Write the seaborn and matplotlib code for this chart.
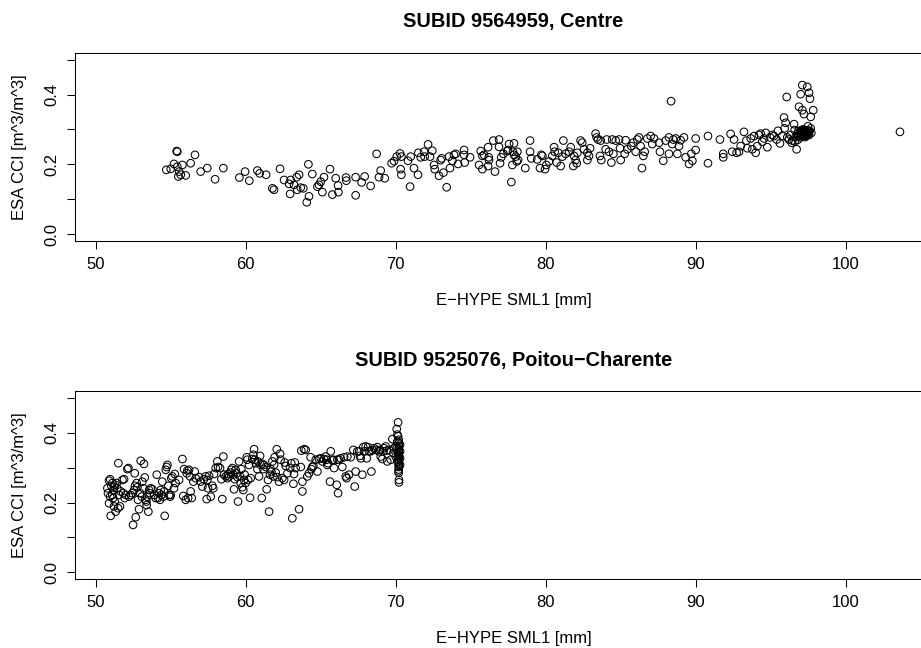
import matplotlib
matplotlib.use("Agg")
import matplotlib.pyplot as plt
import seaborn as sns
import pandas as pd

# ---------------- data ----------------
titles = ["SUBID 9564959, Centre", "SUBID 9525076, Poitou\u2212Charente"]
x_label = "E\u2212HYPE SML1 [mm]"
y_label = "ESA CCI [m^3/m^3]"
x_ticks = [50, 60, 70, 80, 90, 100]
y_ticks = [0.0, 0.1, 0.2, 0.3, 0.4, 0.5]
y_tick_labels = ["0.0", "", "0.2", "", "0.4", ""]

# Centre: (E-HYPE SML1 [mm], ESA CCI)
centre_points = [
    (54.71, 0.184), (55.0, 0.187), (55.22, 0.201), (55.44, 0.193), (55.4, 0.238),
    (55.44, 0.236), (55.56, 0.179), (55.51, 0.165), (55.67, 0.170), (55.78, 0.198),
    (56.0, 0.168), (56.33, 0.203), (56.62, 0.227), (57.0, 0.179), (57.44, 0.189),
    (57.96, 0.157), (58.51, 0.189), (59.58, 0.162), (59.96, 0.179), (60.24, 0.153),
    (60.78, 0.182), (60.93, 0.174), (61.36, 0.170), (61.78, 0.131), (61.89, 0.127),
    (62.29, 0.187), (62.56, 0.155), (62.89, 0.144), (62.96, 0.115), (63.0, 0.155),
    (63.22, 0.141), (63.4, 0.163), (63.56, 0.170), (63.44, 0.127), (63.67, 0.133),
    (63.84, 0.131), (64.18, 0.200), (64.22, 0.108), (64.07, 0.091), (64.44, 0.172),
    (64.78, 0.136), (64.89, 0.141), (65.0, 0.150), (65.11, 0.120), (65.22, 0.163),
    (65.62, 0.186), (65.78, 0.113), (66.0, 0.160), (66.16, 0.139), (66.18, 0.120),
    (66.69, 0.162), (66.71, 0.153), (67.33, 0.163), (67.33, 0.111), (67.73, 0.148),
    (67.93, 0.165), (68.33, 0.138), (68.73, 0.230), (68.89, 0.163), (69.0, 0.182),
    (69.27, 0.160), (69.73, 0.203), (69.89, 0.209), (70.07, 0.222), (70.29, 0.231),
    (70.38, 0.222), (70.33, 0.186), (70.38, 0.170), (70.82, 0.210), (70.96, 0.136),
    (71.0, 0.222), (71.22, 0.189), (71.49, 0.170), (71.51, 0.233), (71.67, 0.220),
    (71.89, 0.236), (71.93, 0.222), (72.16, 0.257), (72.29, 0.222), (72.44, 0.239),
    (72.56, 0.198), (72.6, 0.186), (72.89, 0.167), (73.0, 0.212), (73.07, 0.217),
    (73.18, 0.176), (73.4, 0.134), (73.56, 0.222), (73.62, 0.189), (73.78, 0.210),
    (73.89, 0.227), (74.0, 0.230), (74.16, 0.201), (74.56, 0.241), (74.6, 0.205),
    (74.56, 0.227), (74.96, 0.220), (75.56, 0.198), (75.67, 0.238), (75.78, 0.186),
    (75.78, 0.224), (75.89, 0.227), (76.16, 0.249), (76.2, 0.220), (76.16, 0.195),
    (76.22, 0.212), (76.51, 0.268), (76.62, 0.179), (76.89, 0.271), (76.89, 0.250),
    (76.96, 0.203), (77.04, 0.220), (77.18, 0.230), (77.44, 0.238), (77.56, 0.258),
    (77.49, 0.241), (77.71, 0.149), (77.78, 0.198), (77.82, 0.236), (77.89, 0.260),
    (77.89, 0.227), (78.0, 0.222), (78.07, 0.208), (78.11, 0.236), (78.16, 0.212),
    (78.64, 0.189), (78.96, 0.268), (78.96, 0.236), (79.04, 0.217), (79.44, 0.214),
    (79.62, 0.189), (79.78, 0.224), (79.71, 0.227), (79.96, 0.186), (80.04, 0.198),
    (80.22, 0.208), (80.44, 0.224), (80.56, 0.249), (80.6, 0.236), (80.73, 0.205),
    (80.84, 0.233), (81.0, 0.195), (81.11, 0.222), (81.18, 0.268), (81.33, 0.230),
    (81.56, 0.236), (81.67, 0.249), (81.84, 0.195), (81.89, 0.224), (82.0, 0.212),
    (82.07, 0.203), (82.11, 0.233), (82.33, 0.268), (82.44, 0.262), (82.56, 0.243),
    (82.78, 0.233), (82.78, 0.212), (82.89, 0.224), (82.96, 0.246), (83.33, 0.288),
    (83.4, 0.277), (83.49, 0.271), (83.62, 0.224), (83.67, 0.268), (83.71, 0.212),
    (84.0, 0.243), (84.07, 0.271), (84.22, 0.236), (84.38, 0.205), (84.44, 0.271),
    (84.51, 0.230), (84.67, 0.268), (84.89, 0.271), (84.96, 0.246), (85.0, 0.212),
    (85.27, 0.230), (85.33, 0.269), (85.44, 0.243), (85.71, 0.252), (85.84, 0.262),
    (86.0, 0.236), (86.11, 0.271), (86.22, 0.277), (86.33, 0.252), (86.42, 0.189),
    (86.51, 0.224), (86.6, 0.236), (86.78, 0.274), (87.0, 0.281), (87.11, 0.258),
    (87.22, 0.274), (87.56, 0.262), (87.62, 0.236), (87.84, 0.210), (88.0, 0.268),
    (88.22, 0.277), (88.22, 0.230), (88.36, 0.381), (88.44, 0.258), (88.51, 0.271),
    (88.67, 0.274), (88.78, 0.230), (88.89, 0.252), (89.0, 0.269), (89.22, 0.277),
    (89.33, 0.220), (89.56, 0.201), (89.71, 0.230), (89.78, 0.210), (90.0, 0.274),
    (90.0, 0.241), (90.82, 0.203), (90.82, 0.281), (91.62, 0.271), (91.84, 0.230),
    (91.84, 0.220), (92.33, 0.287), (92.44, 0.236), (92.56, 0.271), (92.73, 0.233),
    (92.89, 0.236), (93.0, 0.252), (93.22, 0.293), (93.38, 0.268), (93.44, 0.246),
    (93.67, 0.274), (93.78, 0.243), (93.89, 0.281), (94.0, 0.233), (94.11, 0.252),
    (94.22, 0.284), (94.33, 0.288), (94.44, 0.265), (94.56, 0.274), (94.67, 0.290),
    (94.78, 0.249), (94.96, 0.277), (95.11, 0.284), (95.22, 0.281), (95.4, 0.271),
    (95.49, 0.296), (95.62, 0.260), (95.78, 0.281), (95.89, 0.334), (95.93, 0.303),
    (96.0, 0.319), (96.07, 0.393), (96.11, 0.277), (96.22, 0.271), (96.33, 0.284),
    (96.44, 0.268), (96.56, 0.315), (96.6, 0.298), (96.67, 0.279), (96.73, 0.243),
    (96.78, 0.288), (96.89, 0.365), (96.89, 0.281), (97.0, 0.401), (97.0, 0.277),
    (97.04, 0.293), (97.11, 0.427), (97.11, 0.355), (97.18, 0.288), (97.22, 0.344),
    (97.27, 0.290), (97.33, 0.284), (97.4, 0.293), (97.44, 0.422), (97.49, 0.309),
    (97.56, 0.405), (97.56, 0.284), (97.62, 0.388), (97.67, 0.336), (97.67, 0.303),
    (97.71, 0.290), (97.84, 0.355), (96.95, 0.290), (97.05, 0.285), (97.1, 0.295),
    (97.15, 0.280), (97.2, 0.292), (97.25, 0.298), (97.3, 0.287), (97.35, 0.292),
    (97.4, 0.282), (97.45, 0.297), (97.5, 0.288), (97.55, 0.293), (97.6, 0.296),
    (97.15, 0.300), (97.3, 0.278), (96.8, 0.282), (96.85, 0.295), (97.0, 0.297),
    (97.2, 0.283), (97.45, 0.290), (96.4, 0.262), (96.6, 0.266), (96.8, 0.270),
    (103.62, 0.293),
]

# Poitou-Charente: (E-HYPE SML1 [mm], ESA CCI)
poitou_points = [
    (50.78, 0.241), (50.82, 0.227), (50.89, 0.263), (50.96, 0.267), (51.0, 0.162),
    (51.04, 0.248), (51.11, 0.256), (51.16, 0.213), (51.22, 0.189), (51.27, 0.203),
    (51.33, 0.174), (50.89, 0.198), (50.96, 0.217), (51.11, 0.222), (51.18, 0.236),
    (51.22, 0.246), (51.29, 0.251), (51.4, 0.256), (51.44, 0.241), (51.49, 0.184),
    (51.56, 0.222), (51.51, 0.313), (51.62, 0.189), (51.67, 0.232), (51.78, 0.265),
    (51.84, 0.227), (51.89, 0.267), (51.93, 0.213), (52.0, 0.222), (52.11, 0.296),
    (52.18, 0.299), (52.22, 0.217), (52.33, 0.222), (52.44, 0.227), (52.49, 0.136),
    (52.56, 0.236), (52.6, 0.284), (52.62, 0.248), (52.67, 0.158), (52.73, 0.256),
    (52.78, 0.244), (52.82, 0.208), (52.89, 0.181), (52.96, 0.227), (53.0, 0.320),
    (53.07, 0.217), (53.11, 0.260), (53.18, 0.241), (53.22, 0.311), (53.27, 0.272),
    (53.33, 0.208), (53.38, 0.203), (53.4, 0.193), (53.44, 0.217), (53.51, 0.174),
    (53.56, 0.236), (53.62, 0.227), (53.67, 0.241), (53.78, 0.238), (53.89, 0.222),
    (54.0, 0.213), (54.07, 0.280), (54.16, 0.213), (54.22, 0.227), (54.29, 0.208),
    (54.33, 0.236), (54.38, 0.222), (54.44, 0.260), (54.51, 0.217), (54.56, 0.232),
    (54.6, 0.162), (54.67, 0.294), (54.73, 0.302), (54.78, 0.308), (54.84, 0.248),
    (54.89, 0.222), (54.96, 0.217), (55.0, 0.222), (55.04, 0.270), (55.11, 0.275),
    (55.22, 0.241), (55.27, 0.282), (55.33, 0.256), (55.56, 0.265), (55.78, 0.325),
    (55.84, 0.219), (55.89, 0.296), (56.0, 0.208), (56.07, 0.284), (56.11, 0.292),
    (56.16, 0.213), (56.22, 0.294), (56.29, 0.275), (56.33, 0.232), (56.4, 0.213),
    (56.51, 0.260), (56.6, 0.289), (56.67, 0.270), (56.89, 0.273), (57.0, 0.260),
    (57.11, 0.246), (57.22, 0.267), (57.33, 0.275), (57.4, 0.210), (57.44, 0.265),
    (57.49, 0.241), (57.56, 0.277), (57.67, 0.217), (57.78, 0.248), (57.84, 0.241),
    (57.89, 0.282), (58.0, 0.299), (58.11, 0.318), (58.16, 0.302), (58.29, 0.299),
    (58.38, 0.267), (58.44, 0.210), (58.51, 0.332), (58.56, 0.280), (58.67, 0.275),
    (58.78, 0.270), (58.82, 0.282), (58.89, 0.275), (59.0, 0.286), (59.04, 0.294),
    (59.11, 0.299), (59.18, 0.280), (59.22, 0.238), (59.27, 0.267), (59.33, 0.294),
    (59.4, 0.284), (59.44, 0.273), (59.49, 0.203), (59.56, 0.318), (59.62, 0.275),
    (59.67, 0.256), (59.71, 0.296), (59.78, 0.244), (59.84, 0.236), (59.89, 0.265),
    (59.93, 0.280), (60.0, 0.256), (60.07, 0.330), (60.11, 0.323), (60.16, 0.265),
    (60.22, 0.308), (60.29, 0.214), (60.33, 0.270), (60.44, 0.325), (60.51, 0.337),
    (60.56, 0.353), (60.6, 0.323), (60.67, 0.313), (60.78, 0.296), (60.82, 0.318),
    (60.89, 0.275), (60.96, 0.334), (61.0, 0.308), (61.07, 0.213), (61.11, 0.311),
    (61.18, 0.296), (61.22, 0.308), (61.33, 0.302), (61.4, 0.238), (61.49, 0.265),
    (61.56, 0.174), (61.62, 0.280), (61.67, 0.296), (61.71, 0.289), (61.78, 0.318),
    (61.84, 0.275), (61.89, 0.308), (61.93, 0.330), (62.0, 0.286), (62.07, 0.353),
    (62.11, 0.273), (62.22, 0.260), (62.29, 0.340), (62.33, 0.323), (62.44, 0.270),
    (62.56, 0.265), (62.6, 0.315), (62.67, 0.305), (62.78, 0.284), (62.96, 0.299),
    (63.04, 0.313), (63.11, 0.155), (63.18, 0.254), (63.22, 0.282), (63.27, 0.315),
    (63.33, 0.299), (63.56, 0.181), (63.67, 0.302), (63.71, 0.349), (63.78, 0.260),
    (63.78, 0.232), (63.89, 0.353), (64.0, 0.351), (64.11, 0.275), (64.22, 0.284),
    (64.33, 0.330), (64.38, 0.296), (64.44, 0.302), (64.51, 0.305), (64.67, 0.323),
    (64.78, 0.289), (64.89, 0.325), (65.0, 0.327), (65.11, 0.318), (65.22, 0.325),
    (65.33, 0.332), (65.4, 0.323), (65.44, 0.308), (65.49, 0.313), (65.62, 0.260),
    (65.67, 0.347), (65.78, 0.321), (65.84, 0.323), (65.89, 0.299), (66.07, 0.251),
    (66.11, 0.323), (66.16, 0.227), (66.22, 0.323), (66.33, 0.327), (66.44, 0.302),
    (66.56, 0.330), (66.67, 0.275), (66.73, 0.270), (66.78, 0.332), (66.89, 0.280),
    (67.0, 0.330), (67.18, 0.351), (67.27, 0.246), (67.33, 0.289), (67.44, 0.347),
    (67.56, 0.347), (67.62, 0.334), (67.67, 0.327), (67.78, 0.280), (67.84, 0.359),
    (67.93, 0.347), (68.0, 0.361), (68.07, 0.327), (68.16, 0.359), (68.22, 0.347),
    (68.33, 0.347), (68.38, 0.289), (68.44, 0.351), (68.56, 0.356), (68.67, 0.351),
    (68.78, 0.359), (68.89, 0.347), (68.96, 0.351), (69.0, 0.332), (69.11, 0.325),
    (69.18, 0.347), (69.22, 0.356), (69.33, 0.361), (69.4, 0.349), (69.44, 0.318),
    (69.56, 0.351), (69.67, 0.323), (69.78, 0.382), (69.84, 0.342), (69.89, 0.356),
    (70.0, 0.361), (70.07, 0.411), (70.11, 0.395), (70.11, 0.375), (70.16, 0.430),
    (70.22, 0.371), (70.22, 0.361), (70.22, 0.351), (70.22, 0.342), (70.22, 0.332),
    (70.22, 0.323), (70.22, 0.313), (70.22, 0.302), (70.22, 0.265), (70.22, 0.258),
    (70.29, 0.366), (70.29, 0.347), (70.29, 0.327), (70.29, 0.308), (70.16, 0.390),
    (70.16, 0.337), (70.11, 0.318), (70.07, 0.356), (70.0, 0.332), (70.2, 0.380),
    (70.2, 0.355), (70.2, 0.345), (70.2, 0.335), (70.2, 0.318), (70.2, 0.305),
    (70.2, 0.295), (70.2, 0.290), (70.2, 0.285),
]

# ---------------- plotting ----------------
sns.set_theme(style="white")
plt.rcParams["font.family"] = ["Liberation Sans", "DejaVu Sans"]

panels = [
    pd.DataFrame(centre_points, columns=["sml1", "cci"]),
    pd.DataFrame(poitou_points, columns=["sml1", "cci"]),
]

fig = plt.figure(figsize=(9.21, 6.48), dpi=100)
W, H = 921.0, 648.0
# axes rectangles in pixels: (left, top, right, bottom)
rects = [(75, 52.7, 952, 241), (75, 391, 952, 579.3)]

for df, title, (l, t, r, b) in zip(panels, titles, rects):
    ax = fig.add_axes([l / W, 1 - b / H, (r - l) / W, (b - t) / H])
    sns.scatterplot(data=df, x="sml1", y="cci", ax=ax, marker="o",
                    facecolor="none", edgecolor="black", linewidth=0.75,
                    s=30, legend=False)
    ax.set_xlim(48.62, 107.09)
    ax.set_ylim(-0.02, 0.52)
    ax.set_xticks(x_ticks)
    ax.set_xticklabels([str(v) for v in x_ticks])
    ax.set_yticks(y_ticks)
    ax.set_yticklabels(y_tick_labels, rotation=90, va="center")
    for sp in ax.spines.values():
        sp.set_visible(True)
        sp.set_color("black")
        sp.set_linewidth(0.75)
    ax.tick_params(axis="both", which="major", direction="out", length=5.8,
                   width=0.75, color="black", labelsize=12, labelcolor="black",
                   left=True, bottom=True)
    ax.tick_params(axis="x", pad=5.5)
    ax.tick_params(axis="y", pad=5.6)
    ax.set_xlabel(x_label, fontsize=12, color="black", labelpad=15)
    ax.set_ylabel(y_label, fontsize=12, color="black")
    ax.yaxis.set_label_coords(-0.0542, 0.5)
    ax.set_title(title, fontsize=14.4, fontweight="bold", color="black", pad=18.2)
    ax.grid(False)

fig.savefig("out.png", dpi=100, facecolor="white")
